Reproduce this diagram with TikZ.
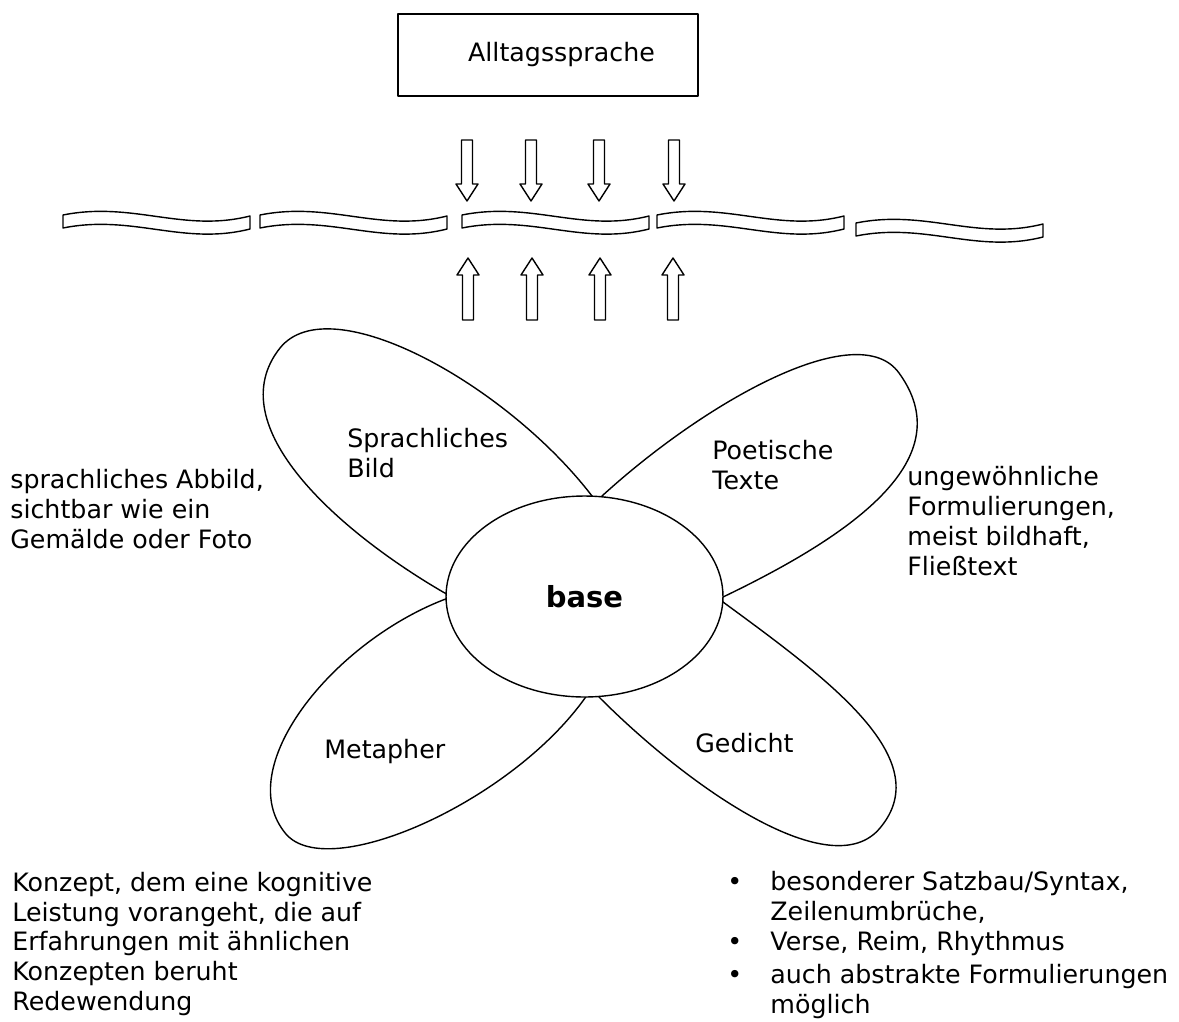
\documentclass[tikz,border=0pt]{standalone}
\usepackage{fontspec}
\setmainfont{DejaVu Sans}
\usetikzlibrary{shapes.geometric}

\tikzset{
  outline/.style={draw=black, line width=0.8pt, line join=round},
  txt/.style={inner sep=0pt, align=left, anchor=west, font=\fontsize{14.4}{17}\selectfont},
}

\begin{document}
\begin{tikzpicture}[x=0.02cm, y=-0.02cm]
\useasboundingbox (0,0) rectangle (1179,1021);

% Kasten oben
\node[outline, minimum width=6cm, minimum height=1.64cm, inner sep=0pt,
  font=\fontsize{14.4}{17}\selectfont] (alltag) at (548,55) {\hspace{0.54cm}Alltagssprache};

% Pfeile von oben und von unten
\foreach \x in {467,531,599,674} {
  \draw[outline] (\x-5.5,140) -- (\x+5.5,140) -- (\x+5.5,184) -- (\x+11,184)
    -- (\x,201) -- (\x-11,184) -- (\x-5.5,184) -- cycle;
}
\foreach \x in {468,532,600,673} {
  \draw[outline] (\x-5.5,320) -- (\x+5.5,320) -- (\x+5.5,275) -- (\x+11,275)
    -- (\x,258) -- (\x-11,275) -- (\x-5.5,275) -- cycle;
}

% gewellte Baender
\foreach \x/\y in {63/215,260/215,462/215,657/215,856/223} {
  \draw[outline] (\x,\y) .. controls (\x+70,\y-14) and (\x+120,\y+18) .. (\x+187,\y+1)
    -- (\x+187,\y+14) .. controls (\x+120,\y+31) and (\x+70,\y-1) .. (\x,\y+13) -- cycle;
}

% Blaetter
\draw[outline] (599,506) -- (592,496) .. controls (507,385) and (330,286) .. (280,348)
  .. controls (218,426) and (340,532) .. (443,592) -- (454,598);
\draw[outline] (594,504) -- (602,496) .. controls (706,401) and (858,316) .. (899,373)
  .. controls (958,454) and (867,528) .. (723,597) -- (712,602);
\draw[outline] (454,596) -- (443,600) .. controls (331,644) and (231,769) .. (286,834)
  .. controls (328,883) and (510,803) .. (585,698) -- (591,689);
\draw[outline] (593,691) -- (600,698) .. controls (692,790) and (832,886) .. (880,828)
  .. controls (938,759) and (828,679) .. (723,602) -- (713,595);

% Mitte
\node[outline, ellipse, fill=white, minimum width=5.54cm, minimum height=4.02cm,
  inner sep=0pt, font=\fontsize{16.5}{20}\selectfont\bfseries] (base) at (584.5,596.5) {base};

% Beschriftungen der Blaetter
\node[txt] (bild) at (347,453) {Sprachliches\\Bild};
\node[txt] (poetisch) at (712,465) {Poetische\\Texte};
\node[txt] (metapher) at (324,752) {Metapher};
\node[txt] (gedicht) at (695,743) {Gedicht};

% Erklaerungen
\node[txt] (bilddesc) at (10,509) {sprachliches Abbild,\\sichtbar wie ein\\Gemälde oder Foto};
\node[txt] (poetdesc) at (907,521) {ungewöhnliche\\Formulierungen,\\meist bildhaft,\\Fließtext};
\node[txt] (metadesc) at (12,944) {Konzept, dem eine kognitive\\Leistung vorangeht, die auf\\Erfahrungen mit ähnlichen\\Konzepten beruht\\Redewendung};
\node[txt] (gedichtdesc) at (727,946) {%
  \begin{tabular}{@{}l@{\hspace{16pt}}l@{}}
  • & besonderer Satzbau/Syntax,\\
    & Zeilenumbrüche,\\
  • & Verse, Reim, Rhythmus\\[2pt]
  • & auch abstrakte Formulierungen\\
    & möglich
  \end{tabular}};

\end{tikzpicture}
\end{document}
